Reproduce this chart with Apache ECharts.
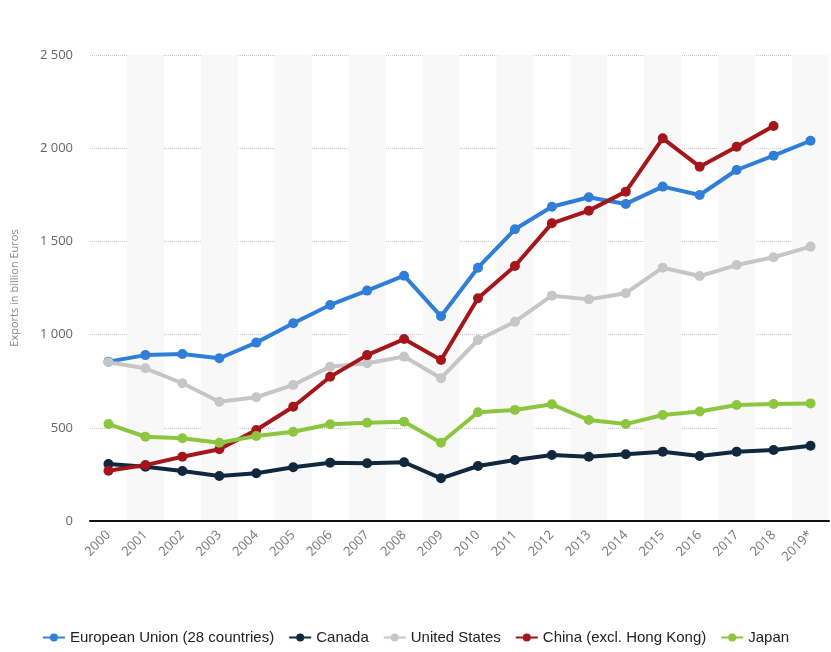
<!DOCTYPE html>
<html lang="en">

<head>
  <meta charset="UTF-8">
  <title>Exports in billion Euros</title>
  <style>
    html, body { margin: 0; padding: 0; background: #fff; }
    #chart { width: 831px; height: 652px; }
  </style>
</head>

<body>
  <div id="chart"></div>

  <script src="https://cdn.jsdelivr.net/npm/echarts@6/dist/echarts.min.js"></script>
  <script>
    // categories
    const years = ['2000', '2001', '2002', '2003', '2004', '2005', '2006', '2007', '2008', '2009',
      '2010', '2011', '2012', '2013', '2014', '2015', '2016', '2017', '2018', '2019*'];

    // values (billion Euros)
    const eu = [855, 890, 896, 873, 957, 1061, 1159, 1236, 1316, 1098,
      1359, 1565, 1686, 1737, 1701, 1794, 1749, 1883, 1960, 2040];
    const canada = [306, 291, 268, 241, 256, 288, 313, 310, 315, 229,
      295, 327, 354, 345, 358, 372, 349, 372, 381, 404];
    const usa = [852, 819, 739, 640, 664, 730, 828, 846, 882, 766,
      971, 1069, 1209, 1189, 1222, 1359, 1314, 1373, 1415, 1472];
    const china = [270, 300, 345, 385, 488, 613, 774, 890, 976, 864,
      1195, 1368, 1597, 1665, 1767, 2053, 1901, 2008, 2119, null];
    const japan = [520, 452, 444, 420, 456, 479, 519, 527, 533, 420,
      583, 596, 626, 542, 520, 569, 587, 622, 628, 631];

    const yTicks = [0, 500, 1000, 1500, 2000, 2500];

    const fmt = v => String(v).replace(/\B(?=(\d{3})+(?!\d))/g, ' ');

    function line(name, data, color) {
      return {
        name: name,
        type: 'line',
        data: data,
        symbol: 'circle',
        symbolSize: 10,
        lineStyle: { width: 4, color: color },
        itemStyle: { color: color },
        emphasis: { disabled: true },
        z: 3
      };
    }

    window.onload = () => {
      let charts = echarts.init(document.getElementById('chart'));
      let option = {
        backgroundColor: '#fff',
        animation: false,
        grid: { left: 90, right: 2, top: 55, bottom: 131 },
        legend: {
          bottom: 2,
          left: 'center',
          itemWidth: 22,
          itemHeight: 10,
          itemGap: 14,
          textStyle: {
            fontFamily: 'Liberation Sans Narrow, Liberation Sans, sans-serif',
            fontSize: 15,
            color: '#222'
          }
        },
        xAxis: {
          type: 'category',
          data: years,
          boundaryGap: true,
          axisLine: { lineStyle: { color: '#111', width: 2 } },
          axisTick: { show: false },
          axisLabel: {
            rotate: 45,
            interval: 0,
            color: '#777',
            fontFamily: 'Open Sans',
            fontSize: 13,
            margin: 12
          },
          splitArea: {
            show: true,
            areaStyle: { color: ['rgba(255,255,255,0)', '#f8f8f8'] }
          }
        },
        yAxis: {
          type: 'value',
          min: yTicks[0],
          max: yTicks[yTicks.length - 1],
          interval: 500,
          name: 'Exports in billion Euros',
          nameLocation: 'middle',
          nameGap: 70,
          nameTextStyle: { color: '#888', fontFamily: 'Open Sans', fontSize: 11 },
          axisLine: { show: false },
          axisTick: { show: false },
          axisLabel: {
            color: '#666',
            fontFamily: 'Open Sans',
            fontSize: 13,
            margin: 17,
            formatter: fmt
          },
          splitLine: { lineStyle: { color: '#c8c8c8', type: 'dotted', width: 1 } }
        },
        series: [
          line('European Union (28 countries)', eu, '#2f7ed8'),
          line('Canada', canada, '#10283d'),
          line('United States', usa, '#c6c6c6'),
          line('China (excl. Hong Kong)', china, '#a5161a'),
          line('Japan', japan, '#8cc63f')
        ]
      };
      charts.setOption(option);
    }
  </script>
</body>

</html>
